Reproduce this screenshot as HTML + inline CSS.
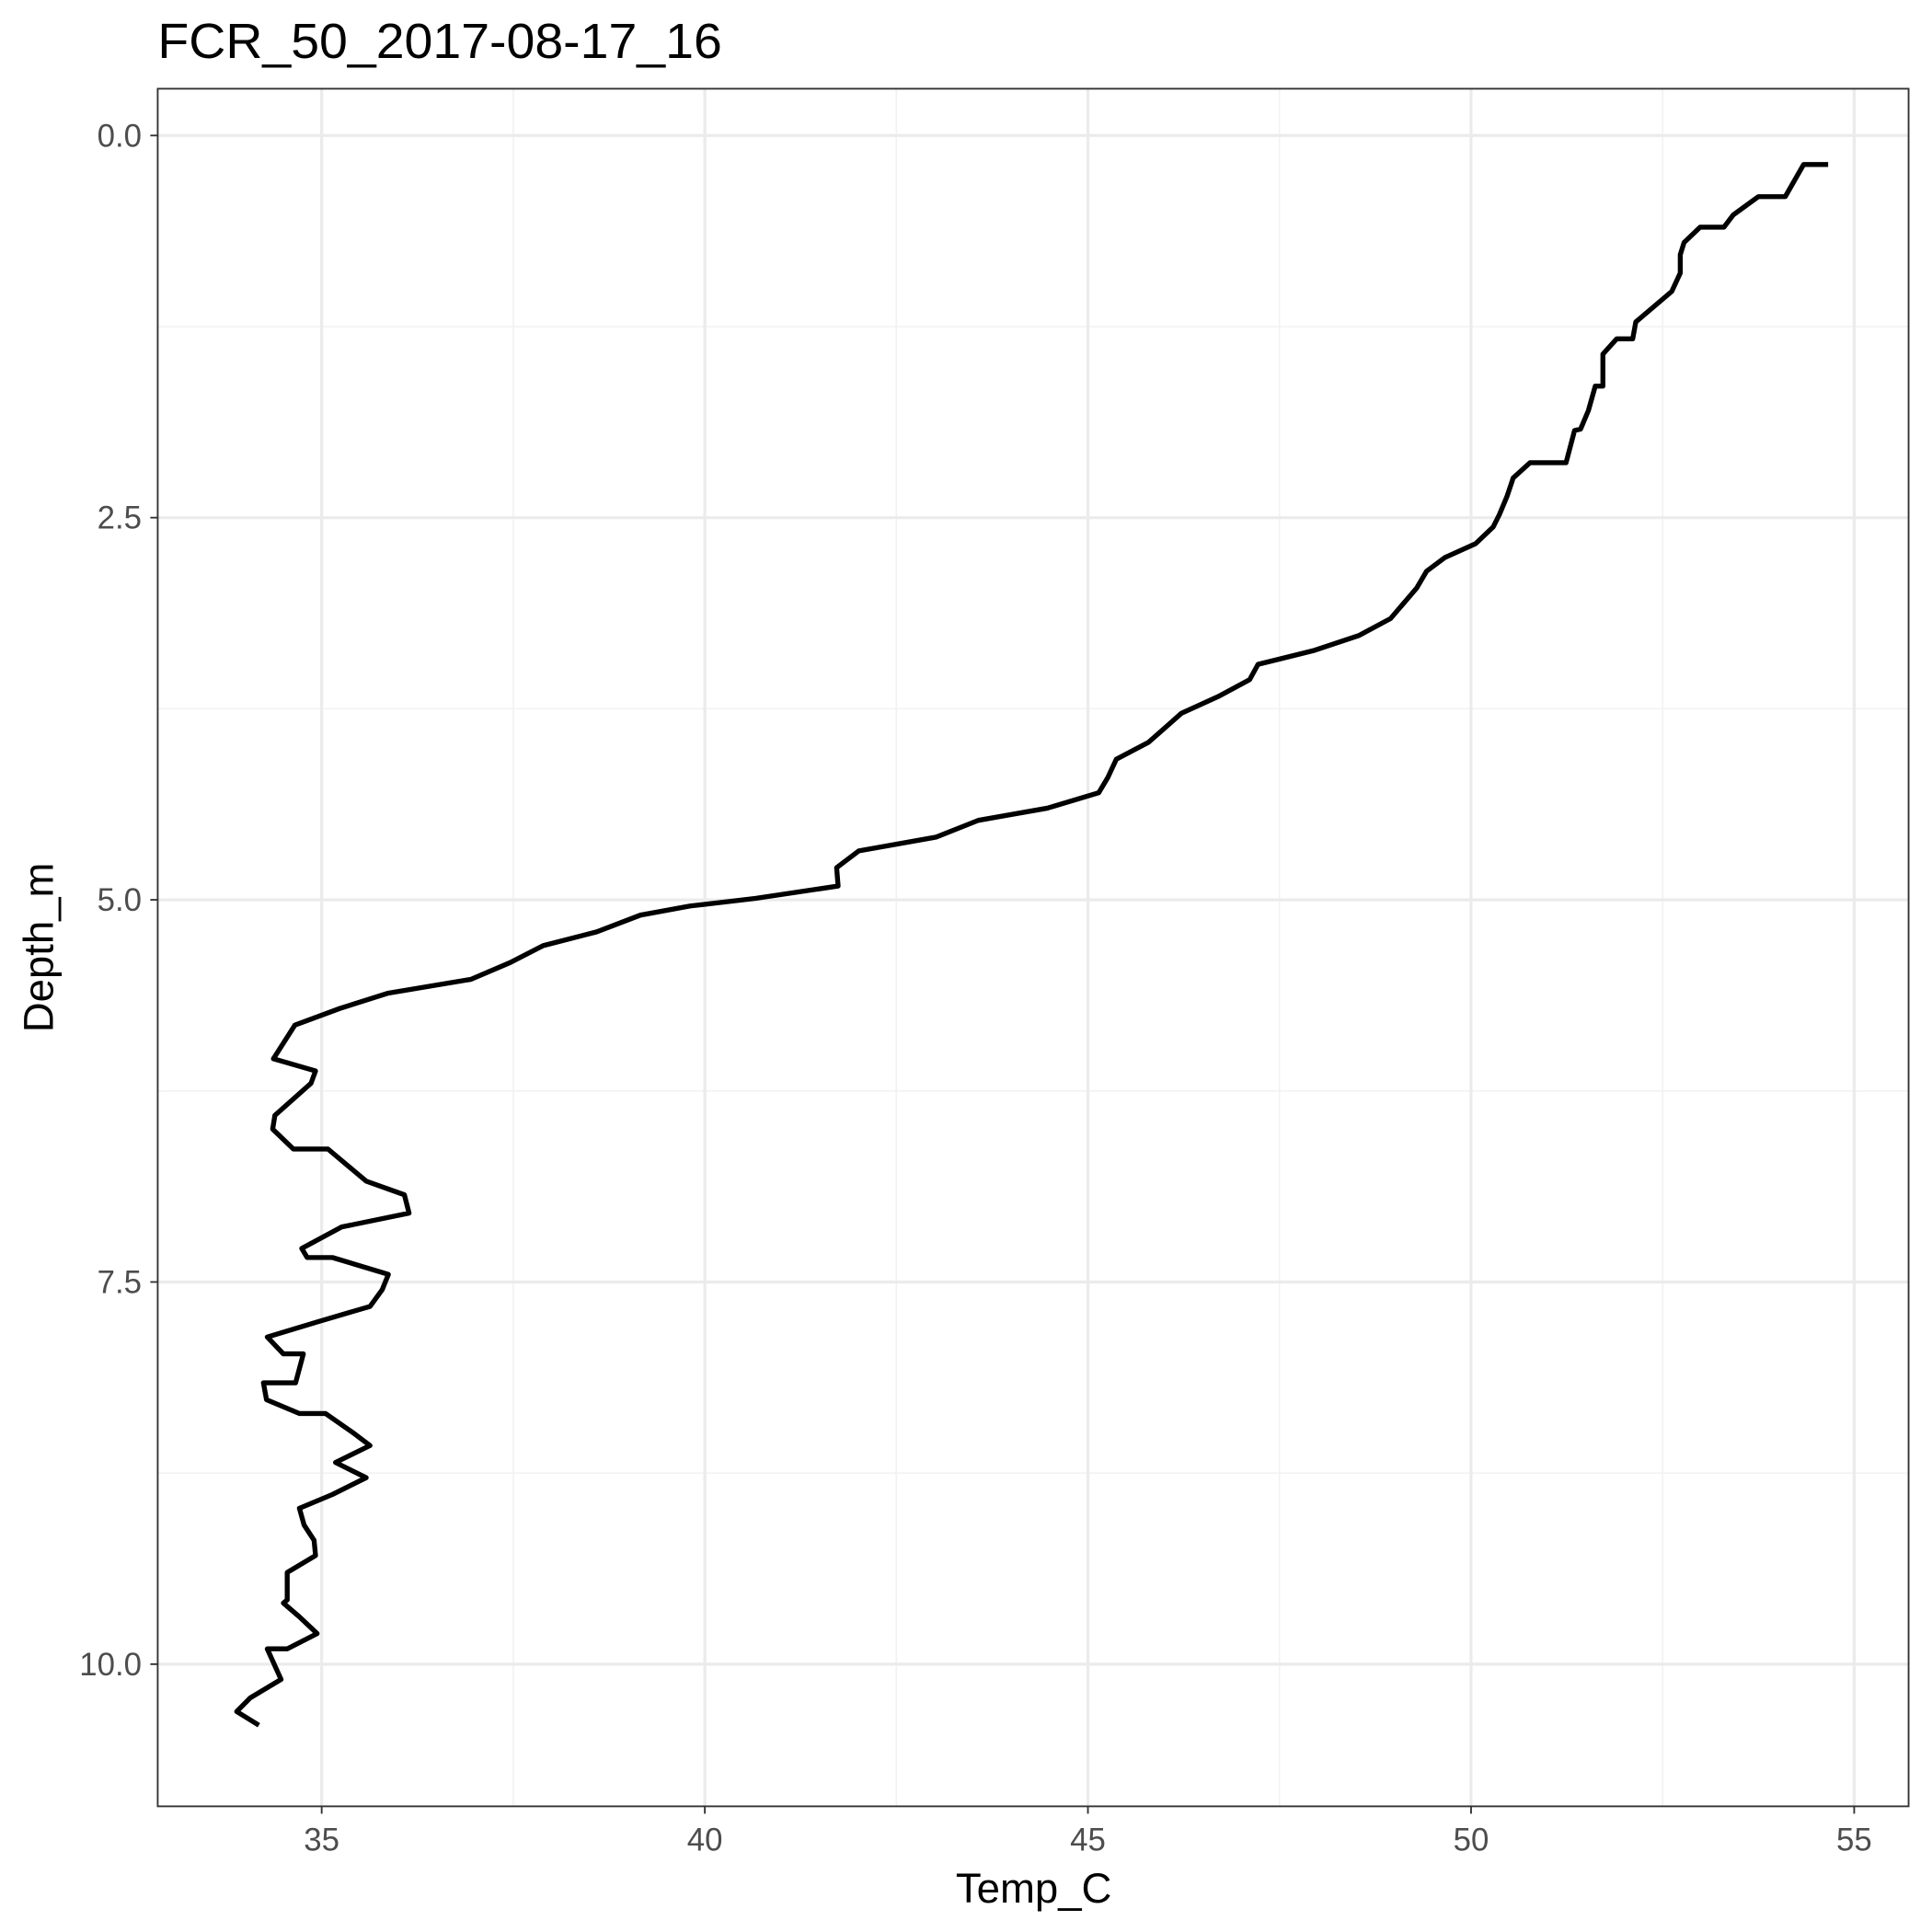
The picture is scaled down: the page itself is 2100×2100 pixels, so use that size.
<!DOCTYPE html>
<html><head><meta charset="utf-8"><style>
html,body{margin:0;padding:0;background:#fff}
svg{display:block;font-family:"Liberation Sans",Arial,sans-serif}
</style></head><body>
<svg id="chart" width="2100" height="2100" viewBox="0 0 1568 1568" xmlns="http://www.w3.org/2000/svg">
<rect width="1568" height="1568" fill="#fff"/>
<g id="grid"></g>
<g id="ticks"></g>
<path id="line" fill="none" stroke="#000" stroke-width="4" stroke-linejoin="round"/>
<rect x="128" y="72" width="1421" height="1394" fill="none" stroke="#333" stroke-width="1.4"/>
<text x="128" y="47" font-size="40" fill="#000" textLength="458" lengthAdjust="spacingAndGlyphs">FCR_50_2017-08-17_16</text>
<text x="839" y="1544" font-size="34" text-anchor="middle" fill="#000">Temp_C</text>
<text transform="translate(43,769) rotate(-90)" font-size="34" text-anchor="middle" fill="#000">Depth_m</text>
</svg>
<script>
const temps=[54.66,54.34,54.10,53.75,53.42,53.30,52.99,52.78,52.73,52.73,52.62,52.15,52.11,51.90,51.72,51.72,51.62,51.53,51.43,51.35,51.24,50.77,50.55,50.47,50.37,50.29,50.06,49.66,49.42,49.29,48.95,48.54,47.94,47.22,47.11,46.70,46.22,45.79,45.37,45.26,45.14,44.47,43.57,43.02,42.01,41.72,41.74,40.66,39.81,39.16,38.59,37.89,37.46,36.95,35.87,35.24,34.65,34.37,34.92,34.86,34.39,34.36,34.63,35.08,35.58,36.08,36.14,35.26,34.74,34.81,35.14,35.87,35.79,35.63,34.95,34.29,34.50,34.76,34.66,34.24,34.28,34.71,35.05,35.42,35.63,35.18,35.58,35.14,34.71,34.77,34.90,34.92,34.55,34.55,34.50,34.71,34.94,34.55,34.29,34.47,34.07,33.89,34.18];
const depths=[0.19,0.19,0.40,0.40,0.52,0.60,0.60,0.70,0.78,0.90,1.02,1.22,1.33,1.33,1.43,1.64,1.64,1.80,1.92,1.93,2.14,2.14,2.24,2.36,2.48,2.56,2.67,2.76,2.85,2.96,3.16,3.27,3.37,3.46,3.56,3.67,3.78,3.97,4.08,4.20,4.30,4.40,4.48,4.59,4.68,4.79,4.91,4.99,5.04,5.10,5.21,5.30,5.41,5.52,5.61,5.71,5.82,6.04,6.12,6.20,6.41,6.50,6.63,6.63,6.84,6.93,7.05,7.14,7.28,7.34,7.34,7.45,7.55,7.66,7.76,7.86,7.97,7.97,8.16,8.16,8.27,8.36,8.36,8.49,8.57,8.68,8.78,8.89,8.98,9.09,9.19,9.29,9.40,9.58,9.60,9.69,9.80,9.90,9.90,10.10,10.22,10.31,10.40];
const xTicks=[35,40,45,50,55];
const xTickLabels=["35","40","45","50","55"];
const xMinor=[37.5,42.5,47.5,52.5];
const yTicks=[0,2.5,5,7.5,10];
const yTickLabels=["0.0","2.5","5.0","7.5","10.0"];
const yMinor=[1.25,3.75,6.25,8.75];

const L=128,R=1549,T=72,B=1466;
const xMin=32.86,xMax=55.71,yMin=-0.306,yMax=10.93;
const sx=v=>L+(v-xMin)/(xMax-xMin)*(R-L);
const sy=v=>T+(v-yMin)/(yMax-yMin)*(B-T);
const NS="http://www.w3.org/2000/svg";
const grid=document.getElementById('grid'), ticks=document.getElementById('ticks');
function ln(p,x1,y1,x2,y2,c,w){const e=document.createElementNS(NS,'line');e.setAttribute('x1',x1);e.setAttribute('y1',y1);e.setAttribute('x2',x2);e.setAttribute('y2',y2);e.setAttribute('stroke',c);e.setAttribute('stroke-width',w);p.appendChild(e);return e;}
function tx(x,y,s,anchor){const e=document.createElementNS(NS,'text');e.setAttribute('x',x);e.setAttribute('y',y);e.setAttribute('font-size','26');e.setAttribute('fill','#4d4d4d');e.setAttribute('text-anchor',anchor);e.textContent=s;ticks.appendChild(e);return e;}
xMinor.forEach(v=>{const e=ln(grid,sx(v),T,sx(v),B,'#f2f2f2',1.2);

});
yMinor.forEach(v=>{const e=ln(grid,L,sy(v),R,sy(v),'#f2f2f2',1.2);

});
xTicks.forEach((v,i)=>{const g=ln(grid,sx(v),T,sx(v),B,'#ebebeb',2.4);


const t=ln(ticks,sx(v),B,sx(v),B+6,'#333',1.4);


const l=tx(sx(v),B+36,xTickLabels[i],'middle');

});
yTicks.forEach((v,i)=>{const g=ln(grid,L,sy(v),R,sy(v),'#ebebeb',2.4);


const t=ln(ticks,L-6,sy(v),L,sy(v),'#333',1.4);


const l=tx(L-13,sy(v)+9,yTickLabels[i],'end');

});
document.getElementById('line').setAttribute('d',temps.map((t,i)=>(i?'L':'M')+sx(t).toFixed(1)+','+sy(depths[i]).toFixed(1)).join(''));
</script>
</body></html>
